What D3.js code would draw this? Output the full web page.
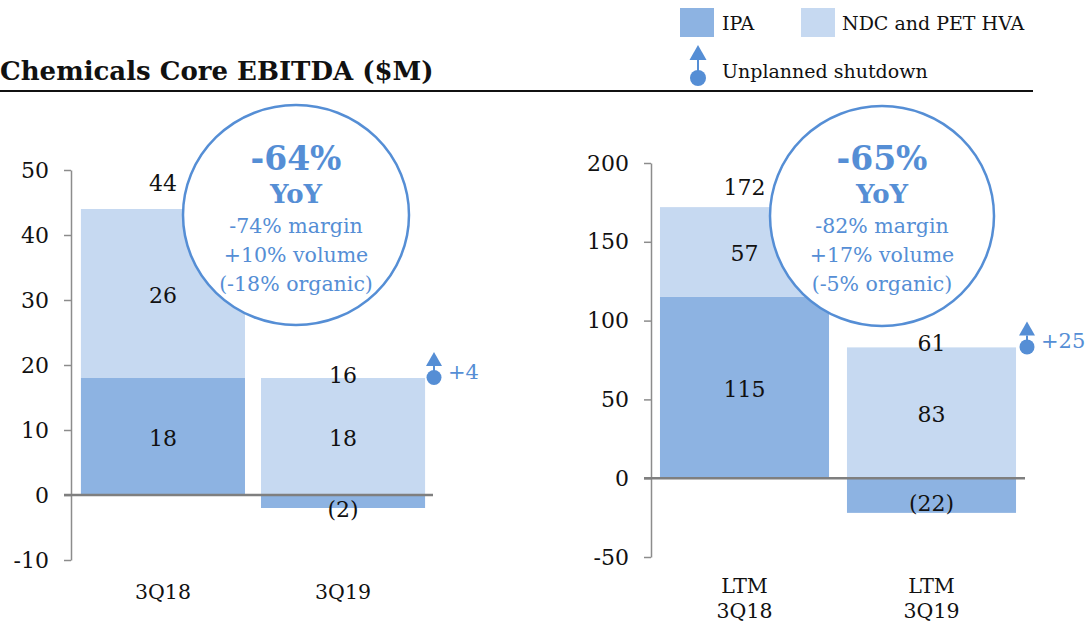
<!DOCTYPE html>
<html>
<head>
<meta charset="utf-8">
<script src="https://cdn.jsdelivr.net/npm/d3@7"></script>
<style>
  html, body { margin: 0; padding: 0; background: #fff; }
  svg { display: block; font-family: "DejaVu Serif", Georgia, serif; }
</style>
</head>
<body>
<svg id="chart" width="1086" height="626"></svg>
<script>
// ---- Data ----
const seriesNames = ["IPA", "NDC and PET HVA"];

const quarterPeriods = ["3Q18", "3Q19"];
const quarterIPA = [18, -2];
const quarterNDC = [26, 18];
const quarterTotal = [44, 16];
const quarterTicks = [-10, 0, 10, 20, 30, 40, 50];
const quarterYoY = ["-64%", "YoY", "-74% margin", "+10% volume", "(-18% organic)"];
const quarterShutdown = "+4";

const ltmPeriods = ["LTM\n3Q18", "LTM\n3Q19"];
const ltmIPA = [115, -22];
const ltmNDC = [57, 83];
const ltmTotal = [172, 61];
const ltmTicks = [-50, 0, 50, 100, 150, 200];
const ltmYoY = ["-65%", "YoY", "-82% margin", "+17% volume", "(-5% organic)"];
const ltmShutdown = "+25";

// ---- Styles ----
const colIPA = "#8db3e2";
const colNDC = "#c6d9f1";
const accent = "#558ed5";
const axisGrey = "#8c8c8c";
const ink = "#111";

const svg = d3.select("#chart");

// Header
svg.append("text")
  .attr("x", 0).attr("y", 80)
  .attr("font-size", 26).attr("font-weight", "bold").attr("fill", ink)
  .text("Chemicals Core EBITDA ($M)");
svg.append("line")
  .attr("x1", 0).attr("x2", 1033).attr("y1", 91).attr("y2", 91)
  .attr("stroke", ink).attr("stroke-width", 2);

// Legend
const legend = svg.append("g");
[[680, colIPA, seriesNames[0], 722], [801, colNDC, seriesNames[1], 842]].forEach(([x, c, t, tx]) => {
  legend.append("rect").attr("x", x).attr("y", 8).attr("width", 34).attr("height", 29).attr("fill", c);
  legend.append("text").attr("x", tx).attr("y", 30).attr("font-size", 19).attr("fill", ink).text(t);
});

function shutdownIcon(g, cx, top, triW, triH, r, gap) {
  g.append("path")
    .attr("d", `M${cx},${top} L${cx + triW / 2},${top + triH} L${cx - triW / 2},${top + triH} Z`)
    .attr("fill", accent);
  g.append("line")
    .attr("x1", cx).attr("x2", cx)
    .attr("y1", top + triH).attr("y2", top + triH + gap + 2)
    .attr("stroke", accent).attr("stroke-width", 2);
  g.append("circle").attr("cx", cx).attr("cy", top + triH + gap + r).attr("r", r).attr("fill", accent);
}
shutdownIcon(legend, 698, 45, 17, 15, 8, 10);
legend.append("text").attr("x", 722).attr("y", 78).attr("font-size", 19).attr("fill", ink).text("Unplanned shutdown");

// ---- Panels ----
function drawPanel(cfg) {
  const g = svg.append("g");
  const rows = cfg.periods.map((p, i) => ({ period: p, ipa: cfg.ipa[i], ndc: cfg.ndc[i], total: cfg.total[i] }));

  const x = d3.scaleBand().domain(cfg.periods).range(cfg.xRange)
    .paddingInner(cfg.padInner).paddingOuter(cfg.padOuter);
  const y = d3.scaleLinear().domain(d3.extent(cfg.ticks)).range(cfg.yRange);

  const stacked = d3.stack().keys(["ipa", "ndc"]).offset(d3.stackOffsetDiverging)(rows);
  const colours = { ipa: colIPA, ndc: colNDC };

  // y axis
  const yAxis = d3.axisLeft(y).tickValues(cfg.ticks).tickFormat(d => String(d))
    .tickSize(7).tickSizeOuter(0).tickPadding(15);
  const ag = g.append("g").attr("transform", `translate(${cfg.axisX},0)`).call(yAxis);
  ag.select(".domain").attr("stroke", axisGrey).attr("stroke-width", 1.5);
  ag.selectAll(".tick line").attr("stroke", axisGrey).attr("stroke-width", 1.5);
  ag.selectAll(".tick text").attr("font-size", 22).attr("fill", ink).attr("font-family", "DejaVu Serif");

  // stacked bars
  stacked.forEach(s => {
    g.append("g").selectAll("rect").data(s).join("rect")
      .attr("x", d => x(d.data.period))
      .attr("width", x.bandwidth())
      .attr("y", d => y(Math.max(d[0], d[1])))
      .attr("height", d => Math.abs(y(d[0]) - y(d[1])))
      .attr("fill", colours[s.key]);
  });

  // zero line
  g.append("line")
    .attr("x1", cfg.axisX - 7).attr("x2", cfg.xRange[1])
    .attr("y1", y(0)).attr("y2", y(0))
    .attr("stroke", "#7f7f7f").attr("stroke-width", 2.5);

  // segment labels
  stacked.forEach(s => {
    g.append("g").selectAll("text").data(s).join("text")
      .attr("x", d => x(d.data.period) + x.bandwidth() / 2)
      .attr("y", d => {
        const v = d.data[s.key];
        const mid = y((d[0] + d[1]) / 2);
        return v < 0 ? mid + 15 : mid + 9;
      })
      .attr("text-anchor", "middle").attr("font-size", 22).attr("fill", ink)
      .text(d => {
        const v = d.data[s.key];
        return v < 0 ? `(${Math.abs(v)})` : v;
      });
  });

  // totals above the stacks
  g.append("g").selectAll("text").data(stacked[1]).join("text")
    .attr("x", d => x(d.data.period) + x.bandwidth() / 2)
    .attr("y", (d, i) => y(d[1]) - cfg.totalLift[i])
    .attr("text-anchor", "middle").attr("font-size", 22).attr("fill", ink)
    .text(d => d.data.total);

  // period labels
  g.append("g").selectAll("text").data(cfg.periods).join("text")
    .attr("x", d => x(d) + x.bandwidth() / 2)
    .attr("y", cfg.catY)
    .attr("text-anchor", "middle").attr("font-size", 20.5).attr("fill", ink)
    .each(function (d) {
      const lines = d.split("\n");
      d3.select(this).selectAll("tspan").data(lines).join("tspan")
        .attr("x", x(d) + x.bandwidth() / 2)
        .attr("dy", (l, i) => i === 0 ? 0 : 25)
        .text(l => l);
    });

  // unplanned shutdown marker at the top of the latest stack
  const last = stacked[1][stacked[1].length - 1];
  const topY = y(last[1]);
  const mg = g.append("g");
  shutdownIcon(mg, cfg.markerX, topY - 26, 16, 14, 7.5, 4);
  mg.append("text")
    .attr("x", cfg.markerX + 14).attr("y", topY + 1)
    .attr("font-size", 21).attr("fill", accent)
    .text(cfg.shutdown);

  // YoY bubble
  const c = cfg.bubble;
  g.append("ellipse")
    .attr("cx", c.cx).attr("cy", c.cy).attr("rx", c.rx).attr("ry", c.ry)
    .attr("fill", "#fff").attr("stroke", accent).attr("stroke-width", 2.5);
  const sizes = [33, 26, 20.5, 20.5, 20.5];
  const weights = ["bold", "bold", "normal", "normal", "normal"];
  const baselines = [170, 203, 233, 262, 291];
  cfg.yoy.forEach((t, i) => {
    g.append("text")
      .attr("x", c.cx).attr("y", baselines[i])
      .attr("text-anchor", "middle")
      .attr("font-size", sizes[i]).attr("font-weight", weights[i])
      .attr("fill", accent)
      .text(t);
  });
}

drawPanel({
  periods: quarterPeriods, ipa: quarterIPA, ndc: quarterNDC, total: quarterTotal,
  ticks: quarterTicks, yoy: quarterYoY, shutdown: quarterShutdown,
  xRange: [73, 433], padInner: 0.089, padOuter: 0.044,
  yRange: [560, 170], axisX: 71, catY: 599,
  totalLift: [18, -5], markerX: 434,
  bubble: { cx: 296, cy: 215, rx: 113, ry: 110 }
});

drawPanel({
  periods: ltmPeriods, ipa: ltmIPA, ndc: ltmNDC, total: ltmTotal,
  ticks: ltmTicks, yoy: ltmYoY, shutdown: ltmShutdown,
  xRange: [651, 1025], padInner: 0.096, padOuter: 0.048,
  yRange: [557, 163], axisX: 651, catY: 593,
  totalLift: [12, -4], markerX: 1027,
  bubble: { cx: 882, cy: 216, rx: 112, ry: 110 }
});
</script>
</body>
</html>
